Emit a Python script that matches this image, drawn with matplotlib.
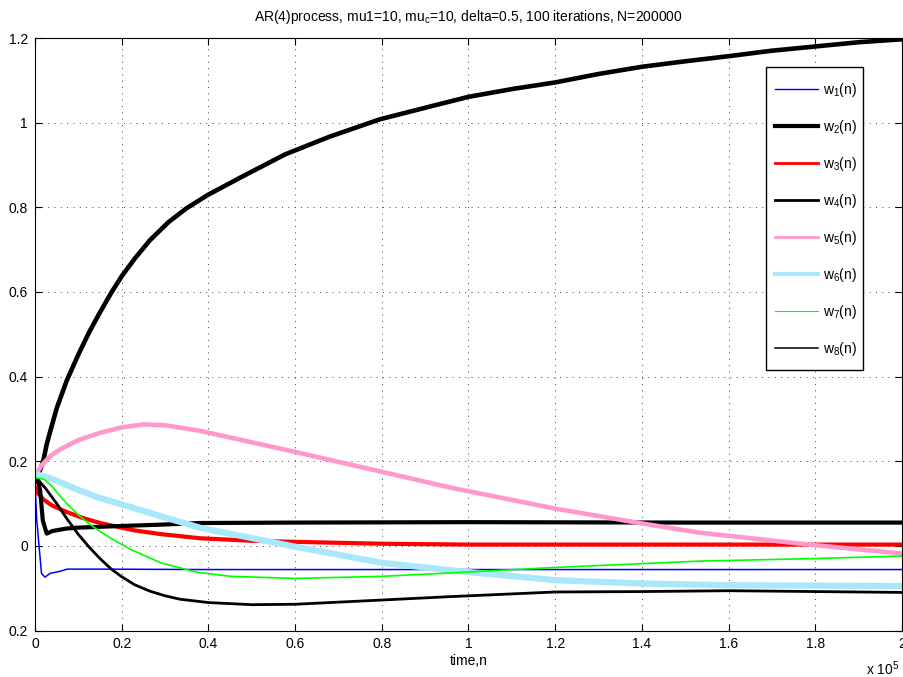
import matplotlib
matplotlib.use('Agg')
import matplotlib.pyplot as plt
from matplotlib.lines import Line2D
from matplotlib.patches import Rectangle
import numpy as np

plt.rcParams['font.family'] = ['Liberation Sans', 'DejaVu Sans']
plt.rcParams['mathtext.default'] = 'regular'

# iteration index (samples) and weight trajectories
n1 = [0, 400, 1500, 2300, 3500, 5800, 7400, 15000, 40000, 80000, 120000, 160000, 200000]
w1 = [0.15, 0.061, -0.065, -0.074, -0.065, -0.060, -0.055, -0.055, -0.056, -0.056, -0.056, -0.056, -0.056]

n2 = [0, 500, 1000, 1900, 2700, 3500, 5000, 7300, 10000, 12500, 15000, 17700, 20000, 23100,
      26500, 30800, 35000, 40000, 47700, 57700, 68000, 79600, 91100, 100000, 110400, 120000,
      130000, 140000, 150000, 160000, 170000, 180000, 190000, 200000]
w2 = [0.15, 0.16, 0.175, 0.2, 0.24, 0.27, 0.325, 0.39, 0.452, 0.505, 0.552, 0.6, 0.637, 0.68,
      0.722, 0.765, 0.798, 0.83, 0.872, 0.925, 0.967, 1.008, 1.038, 1.061, 1.08, 1.095,
      1.115, 1.132, 1.145, 1.157, 1.17, 1.18, 1.19, 1.197]

n3 = [0, 400, 1900, 4000, 7300, 11000, 15000, 22700, 28800, 38000, 50000, 60000, 80000,
      100000, 140000, 200000]
w3 = [0.14, 0.128, 0.11, 0.095, 0.08, 0.066, 0.054, 0.037, 0.028, 0.018, 0.012, 0.0095, 0.005,
      0.003, 0.003, 0.003]

n4 = [0, 700, 1200, 1800, 2700, 4000, 7300, 10000, 15000, 20000, 28800, 38000, 60000, 100000,
      150000, 200000]
w4 = [0.15, 0.155, 0.13, 0.06, 0.029, 0.035, 0.041, 0.043, 0.045, 0.047, 0.05, 0.054, 0.055,
      0.056, 0.055, 0.055]

n5 = [0, 1500, 3500, 5500, 7300, 10000, 15000, 20000, 25000, 30000, 38000, 60000, 80000,
      95700, 120000, 140000, 153400, 179500, 200000]
w5 = [0.165, 0.19, 0.212, 0.226, 0.236, 0.25, 0.267, 0.28, 0.287, 0.285, 0.272, 0.222, 0.175,
      0.138, 0.088, 0.053, 0.031, 0.002, -0.018]

n6 = [0, 3500, 7000, 10000, 15000, 20000, 29000, 38000, 60000, 80000, 100000, 120000, 140000,
      160000, 180000, 200000]
w6 = [0.17, 0.16, 0.145, 0.132, 0.113, 0.098, 0.07, 0.043, -0.002, -0.04, -0.062, -0.081,
      -0.089, -0.093, -0.094, -0.095]

n7 = [0, 2000, 4000, 6000, 8000, 10000, 12500, 15000, 18000, 22000, 29000, 37300, 45000,
      60000, 80000, 95700, 120000, 140000, 153400, 180000, 200000]
w7 = [0.16, 0.158, 0.14, 0.115, 0.093, 0.073, 0.052, 0.034, 0.015, -0.008, -0.04, -0.062,
      -0.072, -0.077, -0.072, -0.064, -0.051, -0.042, -0.036, -0.03, -0.024]

n8 = [0, 800, 2500, 5000, 7500, 10000, 12500, 15000, 17500, 20000, 23000, 26500, 30000,
      33400, 40000, 50000, 60000, 80000, 95700, 120000, 140000, 160000, 180000, 200000]
w8 = [0.15, 0.155, 0.135, 0.1, 0.062, 0.027, -0.003, -0.03, -0.054, -0.073, -0.092, -0.107,
      -0.118, -0.126, -0.134, -0.139, -0.138, -0.128, -0.12, -0.109, -0.108, -0.106, -0.108, -0.11]

series = [(n1, w1), (n2, w2), (n3, w3), (n4, w4), (n5, w5), (n6, w6), (n7, w7), (n8, w8)]
labels = ['w$_%d$(n)' % (i + 1) for i in range(8)]
colors = ['#0000ff', 'k', '#ff0000', 'k', '#ff99cc', '#a8e8fa', '#00ff00', 'k']
lw_plot = [1.1, 3.3, 3.0, 3.0, 3.3, 4.5, 1.2, 2.0]
lw_leg = [1.0, 3.0, 2.0, 2.0, 2.0, 3.0, 0.8, 1.1]

xticks = np.arange(0, 200001, 20000)
xticklabels = ['0', '0.2', '0.4', '0.6', '0.8', '1', '1.2', '1.4', '1.6', '1.8', '2']
yticks = np.arange(-0.2, 1.21, 0.2)
yticklabels = ['0.2', '0', '0.2', '0.4', '0.6', '0.8', '1', '1.2']

fig = plt.figure(figsize=(9.04, 6.77), dpi=100)
ax = fig.add_axes([35 / 904, 46.5 / 677, 867 / 904, 592.5 / 677])

for (n, w), c, lw in zip(series, colors, lw_plot):
    ax.plot(n, w, color=c, lw=lw, solid_joinstyle='round', solid_capstyle='round')

ax.set_xlim(0, 200000)
ax.set_ylim(-0.2, 1.2)
ax.set_xticks(xticks)
ax.set_xticklabels(xticklabels)
ax.set_yticks(yticks)
ax.set_yticklabels(yticklabels)
ax.tick_params(direction='in', length=5, width=0.8, top=True, right=True,
               labelsize=10, pad=5)
ax.grid(True, color='#404040', lw=0.7, dashes=(1.0, 5.5))
for s in ax.spines.values():
    s.set_linewidth(0.8)

ax.set_title('AR(4)process, mu1=10, mu$_c$=10, delta=0.5, 100 iterations, N=200000',
             fontsize=10, pad=12)
ax.set_xlabel('time,n', fontsize=10, labelpad=2)
fig.text(899 / 904, 2 / 677, 'x 10$^5$', ha='right', va='baseline', fontsize=10)

# legend box (MATLAB style: more padding top/bottom than sides)
ax.add_patch(Rectangle((0.8431, 0.4397), 0.1119, 0.5114, transform=ax.transAxes,
                       facecolor='white', edgecolor='k', lw=1.0, zorder=4))
handles = [Line2D([], [], color=c, lw=lw) for c, lw in zip(colors, lw_leg)]
leg = ax.legend(handles, labels, loc='upper left', bbox_to_anchor=(0.8535 - 0.0, 0.9274),
                borderaxespad=0, borderpad=0, fontsize=10, handlelength=3.1,
                handletextpad=0.36, labelspacing=1.37, frameon=False)
leg.set_zorder(5)

fig.savefig('out.png', dpi=100, facecolor='white')
